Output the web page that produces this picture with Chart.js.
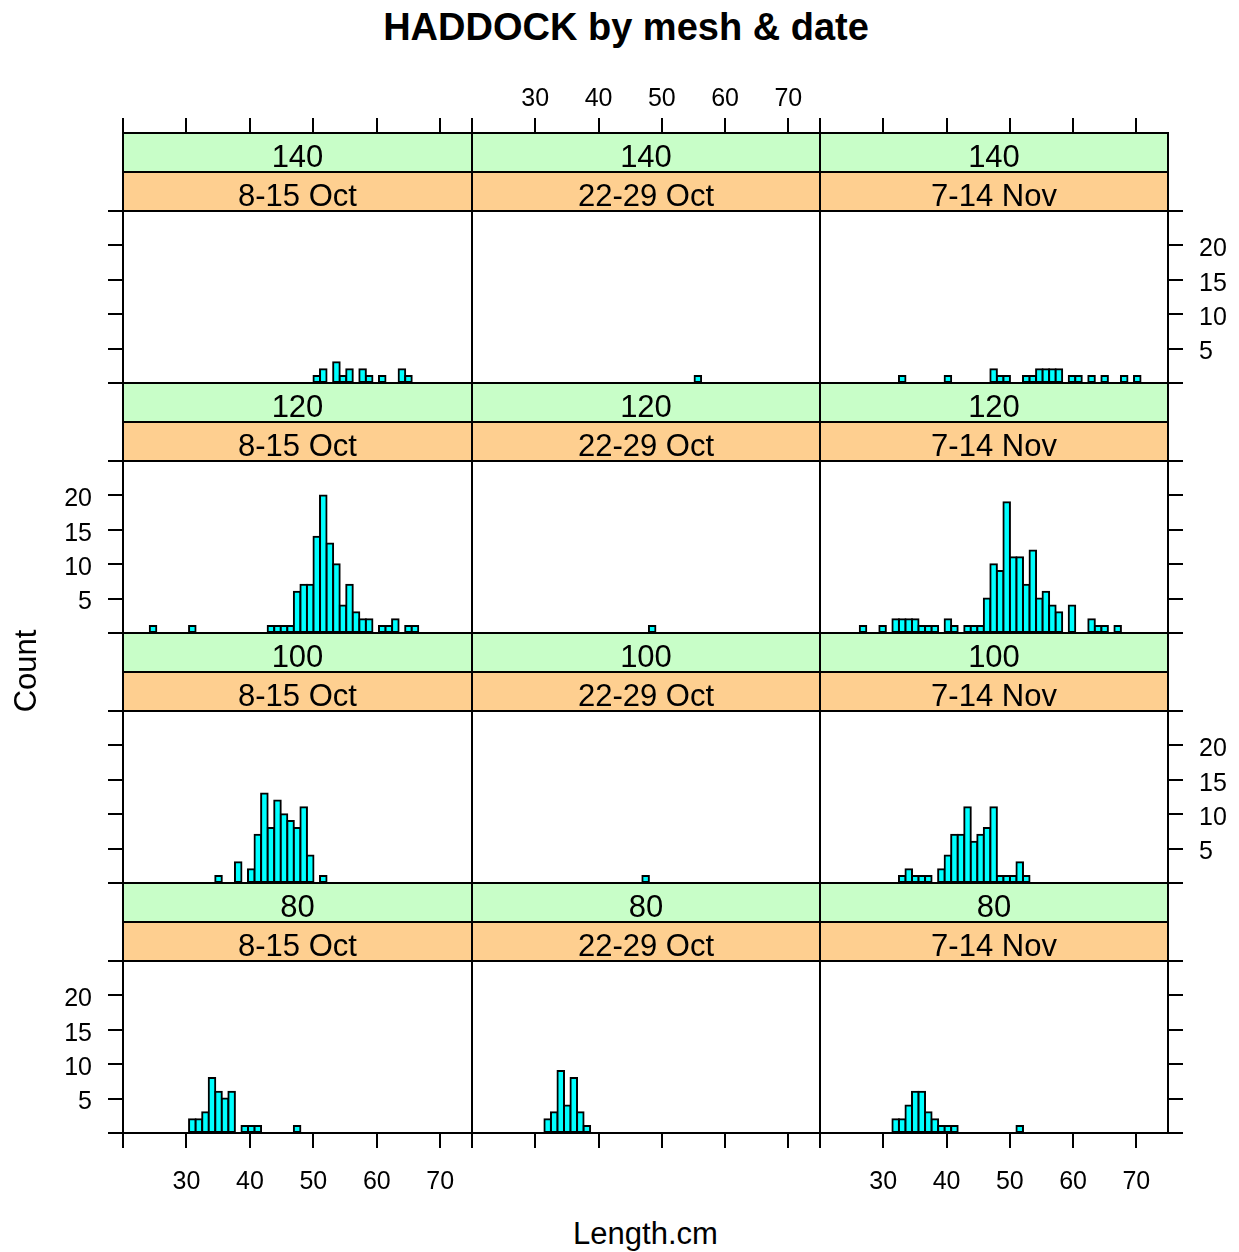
<!DOCTYPE html>
<html lang="en">
<head>
<meta charset="utf-8">
<title>HADDOCK by mesh &amp; date</title>
<script src="https://cdn.jsdelivr.net/npm/chart.js@4.4.1/dist/chart.umd.min.js"></script>
<style>
  html, body { margin: 0; padding: 0; background: #ffffff; }
  #page { position: relative; width: 1239px; height: 1252px; overflow: hidden;
          font-family: "Liberation Sans", Arial, Helvetica, sans-serif; color: #000; }
  #page canvas { position: absolute; }
  .strip { position: absolute; box-sizing: border-box; border: 2px solid #000;
           text-align: center; font-size: 31px; line-height: 31px; padding-top: 7px; white-space: nowrap; }
  .txt { position: absolute; white-space: nowrap; line-height: 1; }
</style>
</head>
<body>
<div id="page"></div>
<script>
// Histogram breaks in cm, shared by every panel (45 equal bins)
const breaks = [24.22, 25.25, 26.28, 27.32, 28.35, 29.38, 30.41, 31.44, 32.48, 33.51,
                34.54, 35.57, 36.60, 37.64, 38.67, 39.70, 40.73, 41.76, 42.80, 43.83,
                44.86, 45.89, 46.92, 47.96, 48.99, 50.02, 51.05, 52.08, 53.12, 54.15,
                55.18, 56.21, 57.24, 58.28, 59.31, 60.34, 61.37, 62.40, 63.44, 64.47,
                65.50, 66.53, 67.56, 68.60, 69.63, 70.66];

const dateLabels = ["8-15 Oct", "22-29 Oct", "7-14 Nov"];
const meshLabels = ["140", "120", "100", "80"];

const xTickValues = [20, 30, 40, 50, 60, 70];
const xLabelValues = [30, 40, 50, 60, 70];
const yTickValues = [0, 5, 10, 15, 20, 25];
const yLabelValues = [5, 10, 15, 20];

// Fish counted in each length bin
const mesh140_oct08 = [0,0,0,0,0,0,0,0,0,0,0,0,0,0,0, 0,0,0,0,0,0,0,0,0,0,1,2,0,3,1, 2,0,2,1,0,1,0,0,2,1,0,0,0,0,0];
const mesh140_oct22 = [0,0,0,0,0,0,0,0,0,0,0,0,0,0,0, 0,0,0,0,0,0,0,0,0,0,0,0,0,0,0, 1,0,0,0,0,0,0,0,0,0,0,0,0,0,0];
const mesh140_nov07 = [0,0,0,0,0,0,0,0,1,0,0,0,0,0,0, 1,0,0,0,0,0,0,2,1,1,0,0,1,1,2, 2,2,2,0,1,1,0,1,0,1,0,0,1,0,1];

const mesh120_oct08 = [1,0,0,0,0,0,1,0,0,0,0,0,0,0,0, 0,0,0,1,1,1,1,6,7,7,14,20,13,10,4, 7,3,2,2,0,1,1,2,0,1,1,0,0,0,0];
const mesh120_oct22 = [0,0,0,0,0,0,0,0,0,0,0,0,0,0,0, 0,0,0,0,0,0,0,0,1,0,0,0,0,0,0, 0,0,0,0,0,0,0,0,0,0,0,0,0,0,0];
const mesh120_nov07 = [0,0,1,0,0,1,0,2,2,2,2,1,1,1,0, 2,1,0,1,1,1,5,10,9,19,11,11,7,12,5, 6,4,3,0,4,0,0,2,1,1,0,1,0,0,0];

const mesh100_oct08 = [0,0,0,0,0,0,0,0,0,0,1,0,0,3,0, 2,7,13,8,12,10,9,8,11,4,0,1,0,0,0, 0,0,0,0,0,0,0,0,0,0,0,0,0,0,0];
const mesh100_oct22 = [0,0,0,0,0,0,0,0,0,0,0,0,0,0,0, 0,0,0,0,0,0,0,1,0,0,0,0,0,0,0, 0,0,0,0,0,0,0,0,0,0,0,0,0,0,0];
const mesh100_nov07 = [0,0,0,0,0,0,0,0,1,2,1,1,1,0,2, 4,7,7,11,6,7,8,11,1,1,1,3,1,0,0, 0,0,0,0,0,0,0,0,0,0,0,0,0,0,0];

const mesh80_oct08 = [0,0,0,0,0,0,2,2,3,8,6,5,6,0,1, 1,1,0,0,0,0,0,1,0,0,0,0,0,0,0, 0,0,0,0,0,0,0,0,0,0,0,0,0,0,0];
const mesh80_oct22 = [0,0,0,0,0,0,0,2,3,9,4,8,3,1,0, 0,0,0,0,0,0,0,0,0,0,0,0,0,0,0, 0,0,0,0,0,0,0,0,0,0,0,0,0,0,0];
const mesh80_nov07 = [0,0,0,0,0,0,0,2,2,4,6,6,3,2,1, 1,1,0,0,0,0,0,0,0,0,0,1,0,0,0, 0,0,0,0,0,0,0,0,0,0,0,0,0,0,0];

// Panel grid: rows are mesh sizes (top to bottom), columns are dates
const panelCounts = [
  [mesh140_oct08, mesh140_oct22, mesh140_nov07],
  [mesh120_oct08, mesh120_oct22, mesh120_nov07],
  [mesh100_oct08, mesh100_oct22, mesh100_nov07],
  [mesh80_oct08,  mesh80_oct22,  mesh80_nov07]
];

// ---- layout ----
const FONT = '"Liberation Sans", Arial, Helvetica, sans-serif';
const M = 70;                                  // canvas margin round each panel
const COL_EDGES = [123, 472, 820, 1168];
const ROW_EDGES = [133, 383, 633, 883, 1133];  // each row = two strips + plot
const STRIP_H = 39;
const X_RANGE = [20, 75];
const Y_RANGE = [0, 25];
const TICK_LEN = 15;
const LINE_W = 2;
const STRIP_GREEN = '#c8fec8';
const STRIP_ORANGE = '#fecf90';
const BAR_FILL = '#00ffff';

const page = document.getElementById('page');

function fixedSize(scale) {
  if (scale.isHorizontal()) scale.height = M; else scale.width = M;
}

function makeAxis(position, marks, labels, min, max, tickValues, labelValues, pad, shift) {
  return {
    type: 'linear', position, min, max, offset: false,
    afterBuildTicks: s => { s.ticks = tickValues.map(v => ({ value: v })); },
    afterFit: fixedSize,
    border: { display: true, color: '#000', width: LINE_W },
    grid: { display: true, offset: false, drawOnChartArea: false, drawTicks: true,
            tickLength: TICK_LEN, color: marks ? '#000' : 'rgba(0,0,0,0)', lineWidth: LINE_W },
    ticks: { display: labels, padding: pad, labelOffset: shift, color: '#000', autoSkip: false,
             maxRotation: 0, minRotation: 0, font: { family: FONT, size: 25 },
             callback: v => labelValues.includes(v) ? String(v) : '' }
  };
}

const mids = breaks.slice(0, -1).map((b, i) => (b + breaks[i + 1]) / 2);

for (let r = 0; r < 4; r++) {
  for (let c = 0; c < 3; c++) {
    const x0 = COL_EDGES[c], x1 = COL_EDGES[c + 1];
    const y0 = ROW_EDGES[r], y1 = ROW_EDGES[r + 1];
    const w = x1 - x0, h = y1 - y0;
    const plotH = h - 2 * STRIP_H;
    // the chart area also holds the two strips, so the count axis runs past 25
    const yTop = Y_RANGE[1] * h / plotH;

    const canvas = document.createElement('canvas');
    canvas.width = w + 2 * M;
    canvas.height = h + 2 * M;
    canvas.style.left = (x0 - M) + 'px';
    canvas.style.top = (y0 - M) + 'px';
    page.appendChild(canvas);

    const counts = panelCounts[r][c];
    const data = counts.map((v, i) => ({ x: mids[i], y: v > 0 ? v : null }));

    new Chart(canvas, {
      type: 'bar',
      data: {
        datasets: [{
          data, xAxisID: 'xb', yAxisID: 'yl',
          backgroundColor: BAR_FILL, borderColor: '#000', borderWidth: LINE_W,
          borderSkipped: false, inflateAmount: LINE_W / 2,
          barPercentage: 1, categoryPercentage: 1
        }]
      },
      options: {
        responsive: false, animation: false, events: [],
        layout: { padding: 0 },
        plugins: { legend: { display: false }, tooltip: { enabled: false }, title: { display: false } },
        scales: {
          xb: makeAxis('bottom', r === 3, r === 3 && c !== 1, X_RANGE[0], X_RANGE[1], xTickValues, xLabelValues, 19, 0),
          xt: makeAxis('top', r === 0, r === 0 && c === 1, X_RANGE[0], X_RANGE[1], xTickValues, xLabelValues, 4, 0),
          yl: makeAxis('left', c === 0, c === 0 && (r === 1 || r === 3), 0, yTop, yTickValues, yLabelValues, 16, 4),
          yr: makeAxis('right', c === 2, c === 2 && (r === 0 || r === 2), 0, yTop, yTickValues, yLabelValues, 16, 4)
        }
      }
    });

    // strips: mesh on top, date below
    const strips = [[meshLabels[r], STRIP_GREEN], [dateLabels[c], STRIP_ORANGE]];
    strips.forEach(([label, bg], k) => {
      const d = document.createElement('div');
      d.className = 'strip';
      d.style.left = (x0 - 1) + 'px';
      d.style.top = (y0 + k * STRIP_H - 1) + 'px';
      d.style.width = (w + 2) + 'px';
      d.style.height = (STRIP_H + 2) + 'px';
      d.style.background = bg;
      d.textContent = label;
      page.appendChild(d);
    });
  }
}

function addText(text, css) {
  const d = document.createElement('div');
  d.className = 'txt';
  d.textContent = text;
  Object.assign(d.style, css);
  page.appendChild(d);
  return d;
}

addText('HADDOCK by mesh & date', { left: '0px', width: '1252px', textAlign: 'center', top: '8px',
  fontSize: '38px', fontWeight: 'bold', lineHeight: '38px' });
addText('Length.cm', { left: '123px', width: '1045px', textAlign: 'center', top: '1218px',
  fontSize: '31px', lineHeight: '31px' });
addText('Count', { left: '25px', top: '671px', fontSize: '31px', lineHeight: '31px',
  transform: 'translate(-50%, -50%) rotate(-90deg)' });
</script>
</body>
</html>
